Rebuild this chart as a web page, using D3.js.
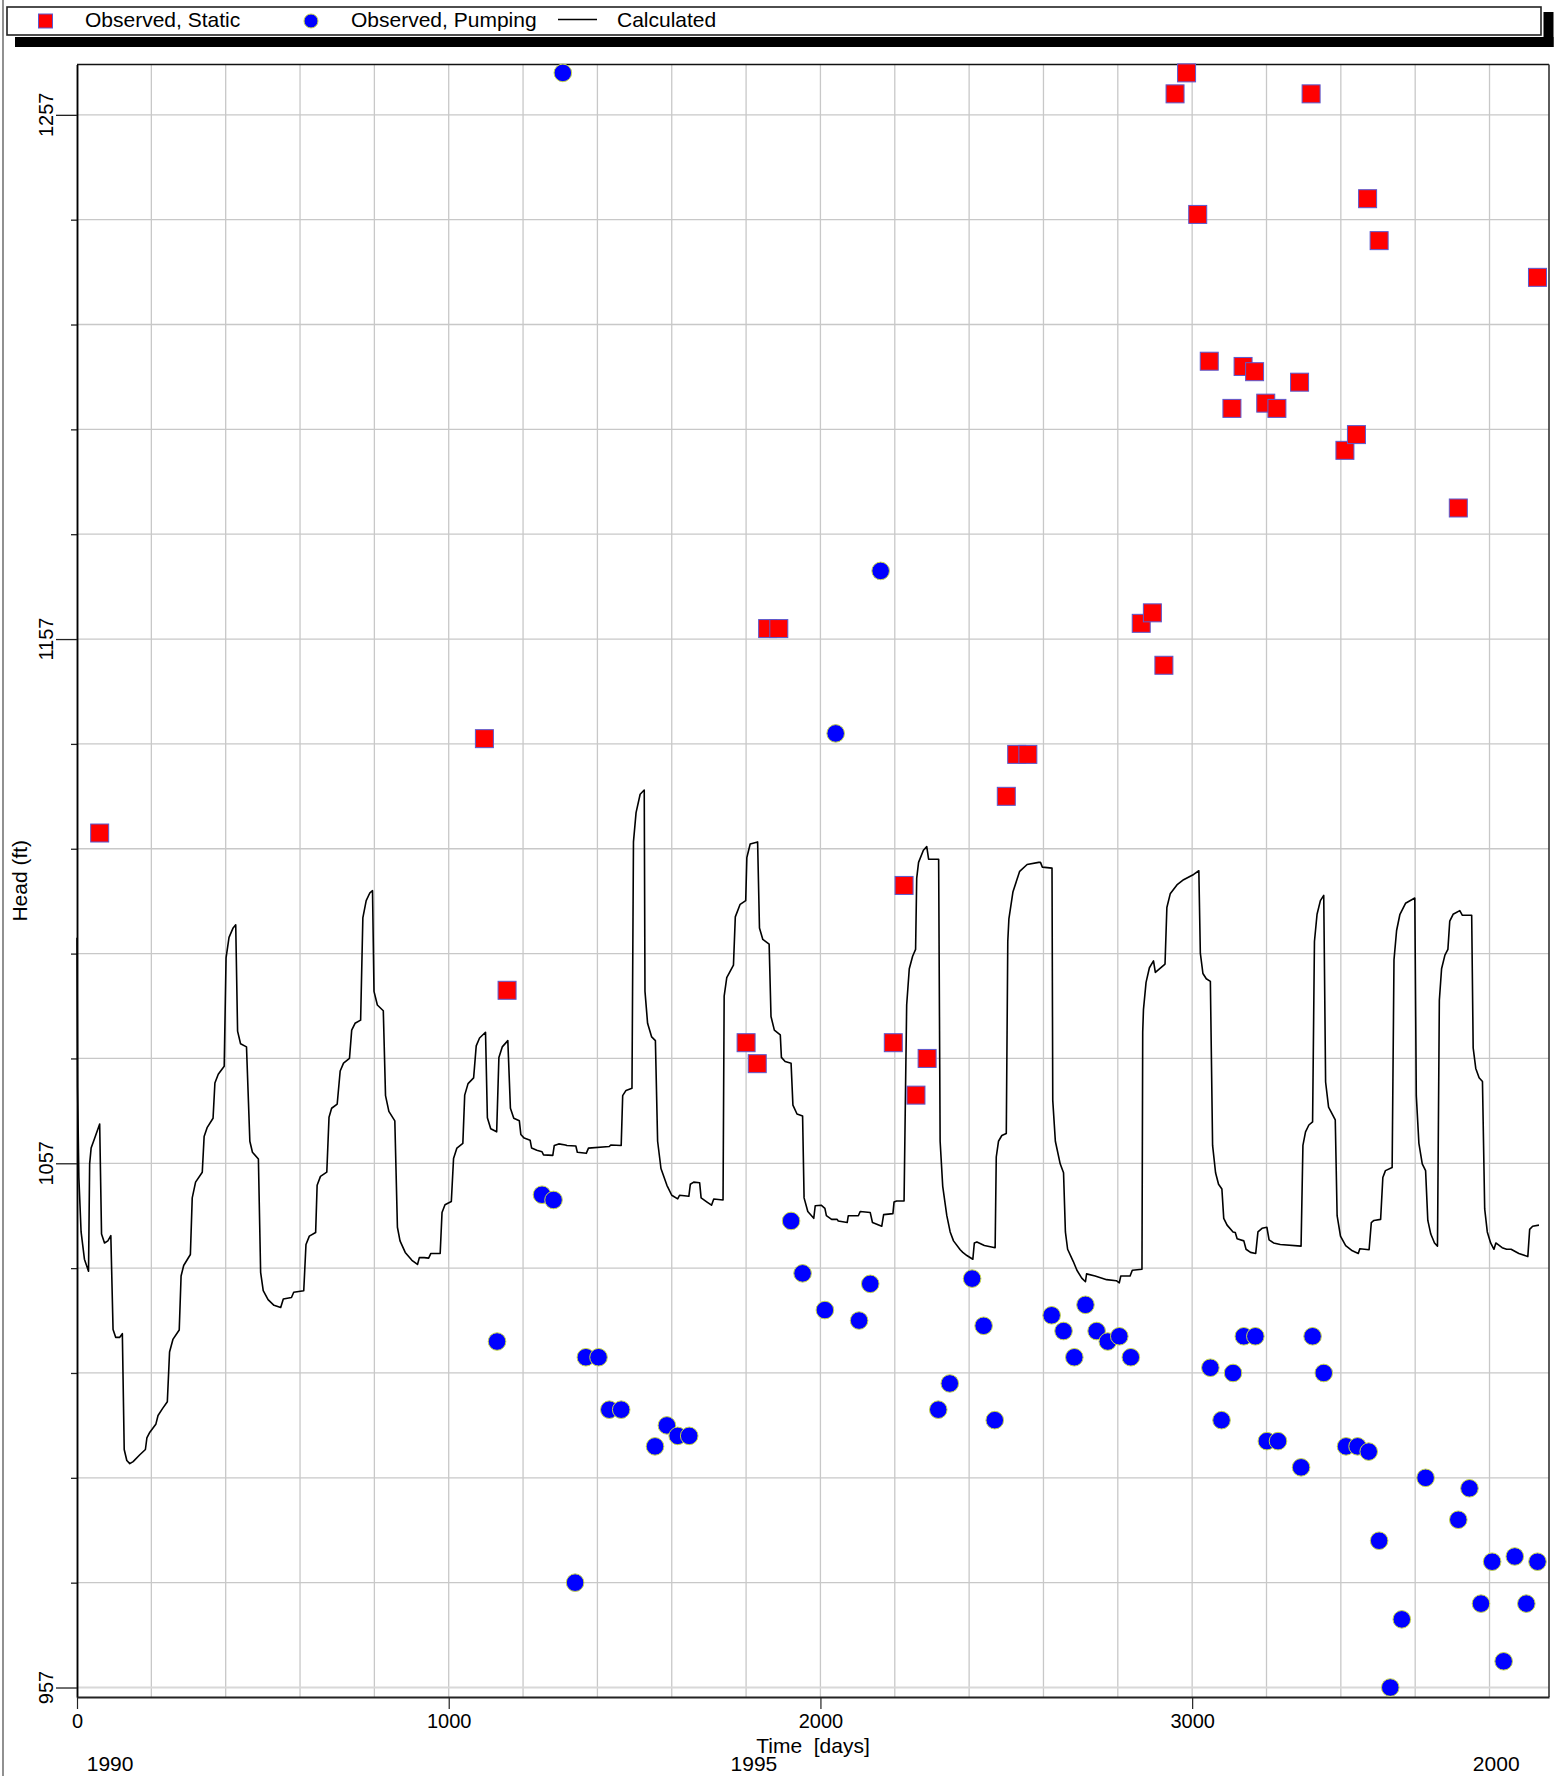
<!DOCTYPE html>
<html>
<head>
<meta charset="utf-8">
<script src="https://cdn.jsdelivr.net/npm/d3@7"></script>
<style>
  html, body { margin: 0; padding: 0; background: #fff; }
  svg { display: block; font-family: "Liberation Sans", Arial, Helvetica, sans-serif; }
</style>
</head>
<body>
<svg id="chart" width="1562" height="1776"></svg>
<script>
// ---- Calculated head (simulation output), time in days since start ----
const calcDays = [0,1.5,5,11,20,31,34,38,47,61,66,74,83,91,97,104,115,122,127,134,142,151,169,184,188,196,212,218,230,243,249,258,275,280,287,305,310,319,337,342,350,366,371,380,396,401,409,420,427,432,440,456,465,472,488,494,501,514,530,548,555,577,583,610,616,625,642,646,655,672,678,685,700,708,717,733,739,748,763,769,778,788,795,799,808,824,830,839,855,862,869,883,901,916,921,934,946,952,977,982,990,1007,1013,1022,1038,1043,1052,1067,1074,1083,1099,1104,1113,1129,1135,1144,1159,1166,1175,1190,1194,1203,1219,1223,1237,1251,1255,1280,1284,1296,1314,1318,1342,1346,1370,1376,1432,1436,1464,1468,1477,1493,1497,1504,1515,1526,1528,1535,1546,1556,1562,1571,1587,1600,1616,1621,1646,1650,1659,1675,1679,1695,1707,1713,1738,1741,1748,1766,1771,1784,1799,1802,1811,1831,1836,1845,1862,1867,1876,1892,1895,1905,1921,1926,1937,1952,1956,1966,1982,1986,2002,2012,2016,2030,2045,2048,2072,2075,2102,2107,2134,2140,2165,2170,2195,2198,2205,2225,2229,2232,2239,2248,2256,2259,2264,2277,2286,2291,2318,2322,2329,2340,2349,2358,2376,2383,2394,2410,2414,2421,2441,2470,2473,2479,2488,2500,2504,2507,2518,2536,2556,2587,2592,2597,2623,2625,2632,2645,2654,2659,2665,2680,2690,2703,2713,2716,2739,2770,2796,2804,2808,2833,2839,2865,2867,2869,2876,2885,2896,2901,2927,2932,2941,2959,2977,3004,3018,3022,3029,3038,3049,3055,3063,3071,3080,3085,3094,3110,3116,3121,3139,3145,3157,3171,3177,3188,3201,3207,3219,3237,3293,3298,3305,3314,3324,3329,3336,3345,3354,3359,3367,3385,3390,3399,3413,3431,3447,3451,3476,3482,3489,3507,3513,3520,3538,3543,3550,3559,3574,3599,3603,3610,3619,3628,3634,3642,3652,3660,3665,3671,3680,3688,3693,3702,3720,3727,3752,3756,3763,3772,3781,3787,3794,3803,3812,3817,3834,3846,3858,3879,3903,3908,3916,3933];
const calcHead = [1100,1071.6,1054.3,1043.9,1038.7,1036.4,1056.9,1059.9,1061.7,1064.5,1043.5,1041.8,1042.2,1043.2,1025.3,1023.8,1023.8,1024.5,1002.4,1000.3,999.7,1000.1,1001.4,1002.4,1004.6,1005.7,1007.2,1008.9,1010.2,1011.5,1021,1023.4,1025.2,1035.5,1037.5,1039.6,1050.4,1053.4,1055.3,1062.1,1063.8,1065.6,1072.3,1074,1075.5,1096.2,1100.1,1101.9,1102.5,1082.2,1079.8,1079.2,1061.2,1059.1,1057.8,1036.2,1032.7,1031,1029.9,1029.5,1031.1,1031.4,1032.4,1032.7,1041.5,1043.1,1043.8,1052.8,1054.5,1055.3,1065.8,1067.5,1068.3,1074.6,1076.1,1077,1082.4,1083.7,1084.3,1103.8,1107.1,1108.6,1109,1089.8,1087.2,1086.1,1069.9,1066.9,1065.1,1044.8,1042.2,1040,1038.5,1037.7,1039,1039,1038.9,1039.8,1039.8,1047.6,1049.1,1049.7,1057.9,1059.9,1060.8,1070,1072.2,1073.3,1079.4,1080.9,1082,1065.7,1063.6,1063,1077.2,1079.2,1080.4,1067.5,1065.6,1065.1,1062.5,1061.8,1061.4,1059.9,1059.5,1059.2,1058.6,1058.5,1060.4,1060.7,1060.5,1060.4,1060.3,1059.1,1058.9,1059.9,1060.2,1060.5,1060.4,1069.9,1070.9,1071.3,1118.3,1123.9,1127.4,1128.2,1089.8,1083.7,1081.1,1080.4,1061.2,1056,1052.8,1050.9,1050.2,1050.9,1050.7,1053,1053.4,1053.3,1050.4,1049.6,1049,1050.2,1050,1088.9,1092.4,1094.8,1104,1106.4,1107.1,1115.3,1117.9,1118.3,1101.9,1099.7,1098.8,1085,1082.4,1081.5,1077.2,1076.4,1076.1,1068.1,1066.4,1066,1050.4,1047.8,1046.5,1048.9,1049,1048.4,1047,1046.3,1046.3,1046,1045.7,1047,1047,1047.8,1047.6,1045.7,1045,1047.2,1047.4,1049.6,1049.8,1049.8,1071.6,1087.2,1094.1,1096.5,1097.8,1111.4,1114.4,1116.7,1117.4,1115,1115,1061.2,1052.6,1047,1043.9,1042.2,1040.5,1040,1039.4,1038.7,1041.8,1042,1041.3,1040.9,1058.2,1061.2,1062.3,1062.7,1099.3,1103.6,1108.8,1112.7,1114,1114.4,1114.4,1113.5,1113.3,1069,1061.2,1056.9,1055.2,1043.9,1040.6,1038.3,1036.6,1035.1,1034.4,1035.9,1035.5,1034.8,1034.6,1034.2,1035.5,1035.5,1036.6,1036.8,1082,1086.3,1091.5,1094.3,1095.6,1093.4,1095,1105.8,1108.4,1110.1,1111.1,1112.1,1112.8,1097.1,1093.2,1092.2,1091.7,1060.4,1055.2,1053,1052.1,1046.5,1045.2,1043.9,1043.8,1042.6,1042.2,1040.6,1040,1039.8,1043.9,1044.6,1044.8,1042.4,1041.8,1041.5,1041.2,1060.4,1063,1064.3,1064.9,1099.3,1104.5,1107.1,1108.1,1072.5,1067.7,1065.3,1047,1043.1,1041.3,1040.3,1039.8,1040.7,1040.5,1045.7,1046.1,1046.3,1054.3,1055.6,1056.2,1095.8,1101.4,1104.5,1106.6,1107.6,1069.9,1060.8,1056.9,1055.6,1046.1,1043.5,1041.8,1041.2,1088.1,1094.1,1096.7,1097.8,1103.2,1104.5,1105.2,1104.3,1104.3,1079,1075.1,1073.3,1072.6,1048.3,1043.9,1041.8,1040.6,1041.8,1040.9,1040.6,1040.6,1039.8,1039.2,1044.4,1045,1045.2];

// ---- Observed head, static water level ----
const staticDays = [61,1096,1157,1800,1830,1858,1888,2196,2225,2257,2287,2500,2528,2558,2863,2893,2924,2954,2985,3015,3046,3107,3137,3168,3198,3228,3289,3320,3411,3442,3472,3503,3716,3929];
const staticHead = [1120,1138,1090,1080,1076,1159,1159,1080,1110,1070,1077,1127,1135,1135,1160,1162,1152,1261,1265,1238,1210,1201,1209,1208,1202,1201,1206,1261,1193,1196,1241,1233,1182,1226];

// ---- Observed head, pumping water level ----
const pumpDays = [1130,1251,1282,1307,1340,1369,1403,1432,1464,1555,1587,1616,1647,1921,1952,2012,2041,2104,2134,2162,2317,2348,2408,2439,2469,2622,2654,2683,2713,2743,2773,2804,2835,3049,3079,3110,3139,3170,3201,3231,3293,3324,3354,3414,3445,3475,3503,3533,3564,3628,3716,3746,3777,3807,3838,3868,3899,3929];
const pumpHead = [1023,1051,1050,1265,977,1020,1020,1010,1010,1003,1007,1005,1005,1046,1036,1029,1139,1027,1034,1170,1010,1015,1035,1026,1008,1028,1025,1020,1030,1025,1023,1024,1020,1018,1008,1017,1024,1024,1004,1004,999,1024,1017,1003,1003,1002,985,957,970,997,989,995,973,981,962,982,973,981];

// ---- Axis ticks and labels ----
const xTickValues = [0, 1000, 2000, 3000];
const xGridValues = d3.range(200, 3801, 200);
const yMajorTicks = [957, 1057, 1157, 1257];
const yGridValues = d3.range(957, 1258, 20);
const yearLabels = ["1990", "1995", "2000"];
const yearDays = [89, 1821, 3818];
const legendLabels = ["Observed, Static", "Observed, Pumping", "Calculated"];

// ---- Layout ----
const plot = { left: 77, right: 1549, top: 64.5, bottom: 1697 };
const svg = d3.select("#chart");

const x = d3.scaleLinear().domain([0, 3960]).range([plot.left, plot.right]);
const y = d3.scaleLinear().domain([955.19, 1266.6]).range([plot.bottom, plot.top]);

// outer frame edge on the left
svg.append("line")
  .attr("x1", 3).attr("x2", 3).attr("y1", 0).attr("y2", 1776)
  .attr("stroke", "#555").attr("stroke-width", 1.3);

// ---- Legend with drop shadow ----
const legend = svg.append("g");
legend.append("rect").attr("x", 15).attr("y", 37).attr("width", 1538.5).attr("height", 10).attr("fill", "#000");
legend.append("rect").attr("x", 1543.5).attr("y", 12).attr("width", 10).attr("height", 35).attr("fill", "#000");
legend.append("rect").attr("x", 7).attr("y", 7).attr("width", 1534).attr("height", 28)
  .attr("fill", "#fff").attr("stroke", "#222").attr("stroke-width", 1.6);

legend.append("rect").attr("x", 38.5).attr("y", 14).attr("width", 14).attr("height", 14)
  .attr("fill", "#ff0000").attr("stroke", "#5a5ad0").attr("stroke-width", 1);
legend.append("circle").attr("cx", 311).attr("cy", 21).attr("r", 7)
  .attr("fill", "#0000ff").attr("stroke", "#c8d848").attr("stroke-width", 1);
legend.append("line").attr("x1", 558).attr("x2", 597).attr("y1", 19.5).attr("y2", 19.5)
  .attr("stroke", "#000").attr("stroke-width", 1.5);

const legendX = [85, 351, 617];
legend.selectAll("text.leg").data(legendLabels).join("text")
  .attr("class", "leg")
  .attr("x", (d, i) => legendX[i]).attr("y", 27)
  .attr("font-size", 21).attr("fill", "#000")
  .text(d => d);

// ---- Grid ----
const grid = svg.append("g");
grid.selectAll("line.gx").data(xGridValues).join("line")
  .attr("class", "gx")
  .attr("x1", d => x(d)).attr("x2", d => x(d))
  .attr("y1", plot.top).attr("y2", plot.bottom)
  .attr("stroke", "#c8c8c8").attr("stroke-width", 1.3);
grid.selectAll("line.gy").data(yGridValues).join("line")
  .attr("class", "gy")
  .attr("x1", plot.left).attr("x2", plot.right)
  .attr("y1", d => y(d)).attr("y2", d => y(d))
  .attr("stroke", d => d === 957 ? "#d8d8d8" : "#c8c8c8")
  .attr("stroke-width", d => d === 957 ? 2.2 : 1.3);

// ---- Plot frame (top and right) ----
svg.append("line").attr("x1", plot.left).attr("x2", plot.right).attr("y1", plot.top).attr("y2", plot.top)
  .attr("stroke", "#111").attr("stroke-width", 1.5);
svg.append("line").attr("x1", plot.right).attr("x2", plot.right).attr("y1", plot.top).attr("y2", plot.bottom)
  .attr("stroke", "#333").attr("stroke-width", 1.6);

// ---- Axes ----
const yMinorAxis = d3.axisLeft(y)
  .tickValues(yGridValues.filter(v => !yMajorTicks.includes(v)))
  .tickSize(6).tickSizeOuter(0).tickFormat("");
const yMajorAxis = d3.axisLeft(y)
  .tickValues(yMajorTicks).tickSize(21).tickSizeOuter(0).tickFormat("");

const gyMinor = svg.append("g").attr("transform", `translate(${plot.left},0)`).call(yMinorAxis);
const gyMajor = svg.append("g").attr("transform", `translate(${plot.left},0)`).call(yMajorAxis);
[gyMinor, gyMajor].forEach(g => {
  g.select(".domain").attr("stroke", "#000").attr("stroke-width", 1.5);
  g.selectAll(".tick line").attr("stroke", "#222").attr("stroke-width", 1.3);
});

// rotated y tick labels
svg.selectAll("text.ylab").data(yMajorTicks).join("text")
  .attr("class", "ylab")
  .attr("transform", d => `translate(53,${y(d)}) rotate(-90)`)
  .attr("text-anchor", "middle")
  .attr("font-size", 20).attr("fill", "#000")
  .text(d => d);

const xAxis = d3.axisBottom(x)
  .tickValues(xTickValues).tickSize(12).tickSizeOuter(0).tickPadding(5)
  .tickFormat(d3.format("d"));
const gx = svg.append("g").attr("transform", `translate(0,${plot.bottom})`).call(xAxis);
gx.select(".domain").attr("stroke", "#222").attr("stroke-width", 2);
gx.selectAll(".tick line").attr("stroke", "#222").attr("stroke-width", 1.2);
gx.selectAll(".tick text")
  .attr("font-size", 20).attr("fill", "#000")
  .attr("font-family", "\"Liberation Sans\", Arial, sans-serif");

// year labels under the day axis
svg.selectAll("text.year").data(yearLabels).join("text")
  .attr("class", "year")
  .attr("x", (d, i) => x(yearDays[i])).attr("y", 1771)
  .attr("text-anchor", "middle")
  .attr("font-size", 21).attr("fill", "#000")
  .text(d => d);

// axis titles
svg.append("text")
  .attr("x", (plot.left + plot.right) / 2).attr("y", 1753)
  .attr("text-anchor", "middle")
  .attr("font-size", 21).attr("fill", "#000")
  .style("white-space", "pre")
  .text("Time  [days]");

svg.append("text")
  .attr("transform", `translate(27,${(plot.top + plot.bottom) / 2}) rotate(-90)`)
  .attr("text-anchor", "middle")
  .attr("font-size", 21).attr("fill", "#000")
  .text("Head (ft)");

// ---- Calculated head line ----
const calcData = calcDays.map((d, i) => ({ day: d, head: calcHead[i] }));
const line = d3.line().x(d => x(d.day)).y(d => y(d.head)).curve(d3.curveLinear);
svg.append("path")
  .datum(calcData)
  .attr("d", line)
  .attr("fill", "none")
  .attr("stroke", "#000")
  .attr("stroke-width", 1.6)
  .attr("stroke-linejoin", "round");

// ---- Observed, pumping ----
const pumpData = pumpDays.map((d, i) => ({ day: d, head: pumpHead[i] }));
svg.append("g").selectAll("circle").data(pumpData).join("circle")
  .attr("cx", d => x(d.day)).attr("cy", d => y(d.head)).attr("r", 8.8)
  .attr("fill", "#0000ff").attr("stroke", "#c8d848").attr("stroke-width", 1);

// ---- Observed, static ----
const staticData = staticDays.map((d, i) => ({ day: d, head: staticHead[i] }));
const sq = 18;
svg.append("g").selectAll("rect").data(staticData).join("rect")
  .attr("x", d => x(d.day) - sq / 2).attr("y", d => y(d.head) - sq / 2)
  .attr("width", sq).attr("height", sq)
  .attr("fill", "#ff0000").attr("stroke", "#5a5ad0").attr("stroke-width", 1);
</script>
</body>
</html>
